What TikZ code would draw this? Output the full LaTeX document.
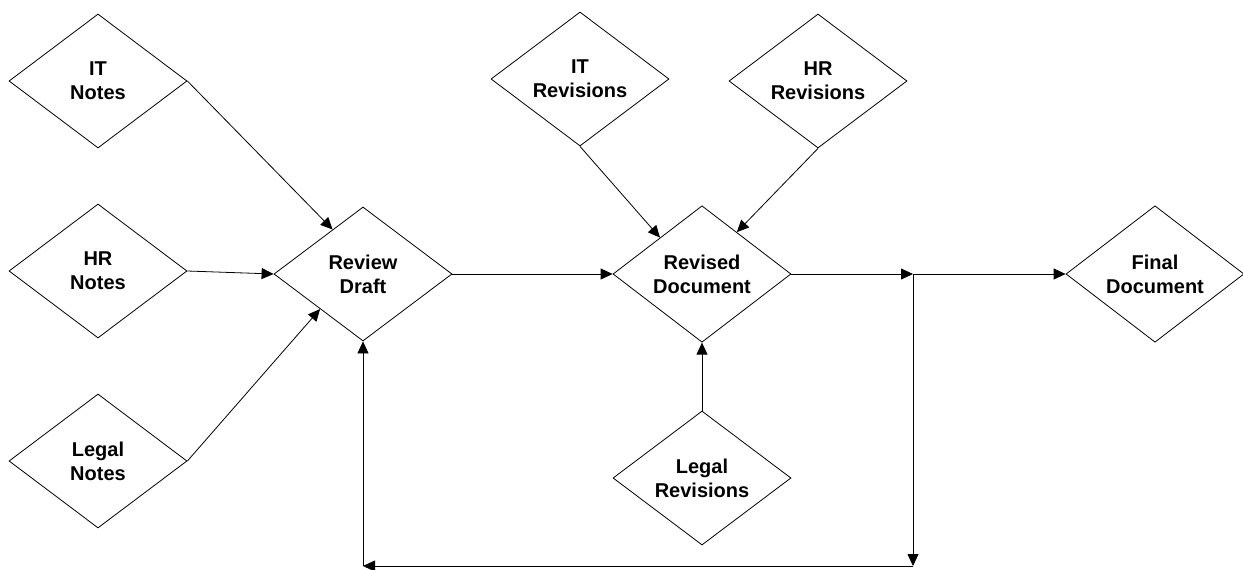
\documentclass[tikz,border=0pt]{standalone}
\usepackage{fontspec}
\setmainfont{Liberation Sans}
\usetikzlibrary{shapes.geometric,arrows.meta,calc}

\tikzset{
  decision/.style={diamond, draw=black, line width=0.8pt, fill=white,
    minimum width=178pt, minimum height=134pt, inner sep=0pt,
    align=center, font=\fontsize{20}{24}\selectfont\bfseries},
  flow/.style={draw=black, line width=0.8pt,
    -{Triangle[length=12pt,width=11pt]}},
}

\begin{document}
\begin{tikzpicture}[x=1pt,y=-1pt]
  \useasboundingbox[fill=white] (0,0) rectangle (1243,570);

  % source notes on the left
  \node[decision] (itn) at (98,81)  {IT\\Notes};
  \node[decision] (hrn) at (98,271) {HR\\Notes};
  \node[decision] (lgn) at (98,461) {Legal\\Notes};

  % main steps
  \node[decision] (rd) at (363,274) {Review\\Draft};
  \node[decision] (rv) at (702,274) {Revised\\Document};
  \node[decision] (fd) at (1155,274) {Final\\Document};

  % revision inputs
  \node[decision] (itr) at (580,79)  {IT\\Revisions};
  \node[decision] (hrr) at (818,81)  {HR\\Revisions};
  \node[decision] (lgr) at (702,478) {Legal\\Revisions};

  % routing points
  \coordinate (split) at (913,274);
  \coordinate (loopR) at (913,566);
  \coordinate (loopL) at (363,566);

  % notes feeding the review draft
  \draw[flow] (itn.east) -- ($(rd.west)!0.66!(rd.north)$);
  \draw[flow] (hrn.east) -- (rd.west);
  \draw[flow] (lgn.east) -- ($(rd.west)!0.52!(rd.south)$);

  % review draft to revised document
  \draw[flow] (rd.east) -- (rv.west);

  % revisions feeding the revised document
  \draw[flow] (itr.south) -- ($(rv.west)!0.53!(rv.north)$);
  \draw[flow] (hrr.south) -- ($(rv.east)!0.61!(rv.north)$);
  \draw[flow] (lgr.north) -- (rv.south);

  % onward to the final document, and the loop back to review
  \draw[flow] (rv.east) -- (split);
  \draw[flow] (split) -- (fd.west);
  \draw[flow] (split) -- (loopR);
  \draw[flow] (loopR) -- (loopL);
  \draw[flow] (loopL) -- (rd.south);
\end{tikzpicture}
\end{document}
